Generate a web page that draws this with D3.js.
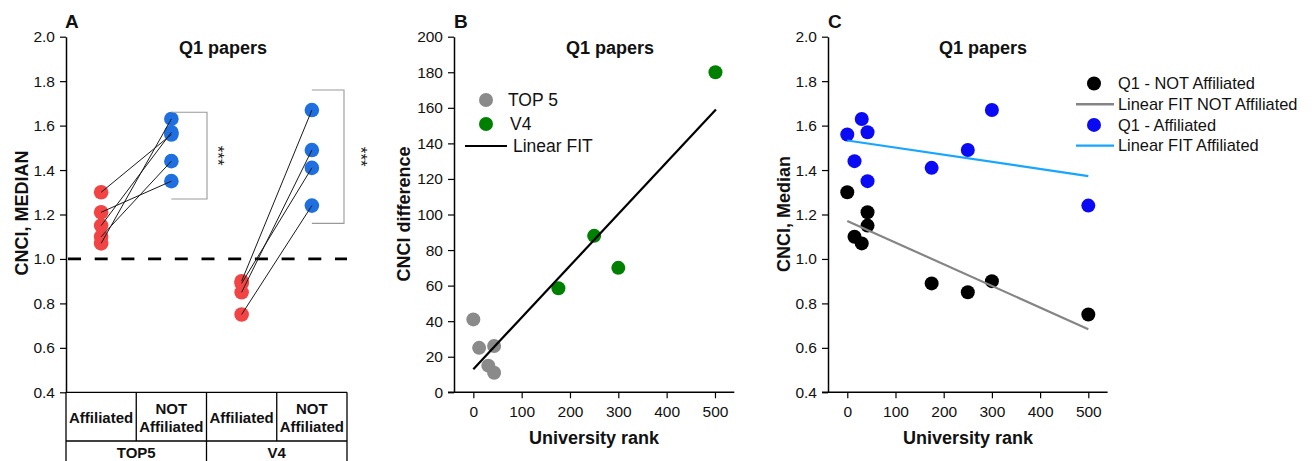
<!DOCTYPE html>
<html>
<head>
<meta charset="utf-8">
<script src="https://cdn.jsdelivr.net/npm/d3@7"></script>
<style>
  html, body { margin: 0; padding: 0; background: #fff; }
  svg { display: block; font-family: "Liberation Sans", Arial, sans-serif; }
</style>
</head>
<body>
<svg id="chart" width="1314" height="461"></svg>
<script>
// ---------------- DATA ----------------
// Panel A
const groupsA = ["TOP5", "V4"];
const conditionsA = ["Affiliated", "NOT Affiliated"];
const top5Affiliated    = [1.30, 1.10, 1.07, 1.21, 1.15];
const top5NotAffiliated = [1.56, 1.44, 1.63, 1.35, 1.57];
const v4Affiliated      = [0.89, 0.85, 0.90, 0.75];
const v4NotAffiliated   = [1.41, 1.49, 1.67, 1.24];
const refLineA = 1.0;
const significanceA = ["***", "***"];
const yTicksA = [0.4, 0.6, 0.8, 1.0, 1.2, 1.4, 1.6, 1.8, 2.0];

// Panel B
const top5Rank = [0, 12, 31, 43, 43];
const top5Diff = [41, 25, 15, 26, 11];
const v4Rank   = [176, 250, 300, 501];
const v4Diff   = [58.5, 88, 70, 180];
const fitBRank = [0, 502];
const fitBDiff = [13, 159];
const yTicksB  = [0, 20, 40, 60, 80, 100, 120, 140, 160, 180, 200];
const xTicksRank = [0, 100, 200, 300, 400, 500];

// Panel C
const rankC = [0, 15, 30, 42, 42, 175, 250, 300, 500];
const notAffiliatedC = [1.30, 1.10, 1.07, 1.21, 1.15, 0.89, 0.85, 0.90, 0.75];
const affiliatedC    = [1.56, 1.44, 1.63, 1.57, 1.35, 1.41, 1.49, 1.67, 1.24];
const fitCRank = [0, 500];
const fitNotAffC = [1.171, 0.684];
const fitAffC    = [1.533, 1.373];

// ---------------- STYLE ----------------
const RED = "#f24444", BLUE_A = "#1f6fe0";
const GRAY_B = "#8a8a8a", GREEN = "#008000";
const BLUE_C = "#0a0af5", FIT_GRAY = "#858585", FIT_BLUE = "#16a6ff";
const TXT = "#111";

const svg = d3.select("#chart");

const yTop = 36.7, yBot = 392.3;

function yAxis(g, scale, x, ticks, fmt) {
  const a = d3.axisLeft(scale).tickValues(ticks).tickFormat(fmt).tickSize(6).tickPadding(5).tickSizeOuter(0);
  const gg = g.append("g").attr("transform", `translate(${x},0)`).call(a);
  gg.select(".domain").attr("stroke", "#000").attr("stroke-width", 1.5);
  gg.selectAll(".tick line").attr("stroke", "#000").attr("stroke-width", 1.2);
  gg.selectAll(".tick text").attr("font-size", 15.5).attr("fill", TXT).attr("font-family", "Liberation Sans, Arial, sans-serif");
  return gg;
}
function xAxis(g, scale, y, ticks, leftExt) {
  const a = d3.axisBottom(scale).tickValues(ticks).tickSize(6).tickPadding(8).tickSizeOuter(0);
  const gg = g.append("g").attr("transform", `translate(0,${y})`).call(a);
  gg.select(".domain").remove();
  const r = scale.range();
  gg.append("line").attr("x1", r[0] - leftExt).attr("x2", r[1]).attr("y1", 0).attr("y2", 0)
    .attr("stroke", "#000").attr("stroke-width", 1.5);
  gg.selectAll(".tick line").attr("stroke", "#000").attr("stroke-width", 1.2);
  gg.selectAll(".tick text").attr("font-size", 15.5).attr("fill", TXT).attr("font-family", "Liberation Sans, Arial, sans-serif");
  return gg;
}
function title(g, x, txt) {
  g.append("text").attr("x", x).attr("y", 54).attr("text-anchor", "middle")
    .attr("font-size", 18).attr("font-weight", "bold").attr("fill", TXT).text(txt);
}
function panelLabel(g, x, txt) {
  g.append("text").attr("x", x).attr("y", 28).attr("font-size", 19)
    .attr("font-weight", "bold").attr("fill", TXT).text(txt);
}
function yLabel(g, x, y, txt) {
  g.append("text").attr("transform", `translate(${x},${y}) rotate(-90)`)
    .attr("text-anchor", "middle").attr("dy", "0.35em")
    .attr("font-size", 18).attr("font-weight", "bold").attr("fill", TXT).text(txt);
}

// ---------------- PANEL A ----------------
(function () {
  const g = svg.append("g");
  const keys = [];
  groupsA.forEach(gr => conditionsA.forEach(c => keys.push(gr + "|" + c)));
  const x = d3.scaleBand().domain(keys).range([66, 347]).padding(0);
  const y = d3.scaleLinear().domain([0.4, 2.0]).range([yBot, yTop]);
  const cx = k => x(k) + x.bandwidth() / 2;

  yAxis(g, y, 66, yTicksA, d3.format(".1f"));

  // dashed reference line
  g.append("line").attr("x1", 66).attr("x2", 347).attr("y1", y(refLineA)).attr("y2", y(refLineA))
    .attr("stroke", "#000").attr("stroke-width", 2.8).attr("stroke-dasharray", "13,13.7")
    .attr("stroke-dashoffset", -2);

  const sets = [
    { g: "TOP5", a: top5Affiliated, n: top5NotAffiliated },
    { g: "V4", a: v4Affiliated, n: v4NotAffiliated }
  ];
  const starOffset = [11, 17];

  sets.forEach((s, si) => {
    const ka = s.g + "|" + conditionsA[0], kn = s.g + "|" + conditionsA[1];
    // dots
    g.selectAll(null).data(s.a).enter().append("circle")
      .attr("cx", cx(ka)).attr("cy", d => y(d)).attr("r", 7.3).attr("fill", RED);
    g.selectAll(null).data(s.n).enter().append("circle")
      .attr("cx", cx(kn)).attr("cy", d => y(d)).attr("r", 7.3).attr("fill", BLUE_A);
    // pair lines
    g.selectAll(null).data(s.a.map((v, i) => [v, s.n[i]])).enter().append("line")
      .attr("x1", cx(ka)).attr("x2", cx(kn))
      .attr("y1", d => y(d[0])).attr("y2", d => y(d[1]))
      .attr("stroke", "#1a1a1a").attr("stroke-width", 1);
    // bracket
    const maxN = d3.max(s.n), minN = d3.min(s.n);
    const bx = x(kn) + x.bandwidth() + (si === 0 ? 0.5 : -3);
    const yt = y(maxN + 0.03 + (si === 0 ? 0 : 0.06));
    const yb = y(minN - 0.08);
    g.append("path")
      .attr("d", `M${cx(kn)},${yt}H${bx}V${yb}H${cx(kn)}`)
      .attr("fill", "none").attr("stroke", "#999").attr("stroke-width", 1.1);
    g.append("text").attr("transform", `translate(${bx + starOffset[si]},${(yt + yb) / 2}) rotate(90)`)
      .attr("text-anchor", "middle").attr("dy", "0.35em")
      .attr("font-size", 17).attr("fill", "#222").text(significanceA[si]);
  });

  // category table
  const tTop = yBot, tMid = 441, tBot = 490;
  const tl = g.append("g").attr("stroke", "#000").attr("stroke-width", 1.3);
  tl.append("line").attr("x1", 66).attr("x2", 347).attr("y1", tTop).attr("y2", tTop);
  tl.append("line").attr("x1", 66).attr("x2", 347).attr("y1", tMid).attr("y2", tMid);
  keys.forEach(k => {
    tl.append("line").attr("x1", x(k)).attr("x2", x(k)).attr("y1", tTop).attr("y2", tMid);
  });
  tl.append("line").attr("x1", 347).attr("x2", 347).attr("y1", tTop).attr("y2", tBot);
  groupsA.forEach(gr => {
    const k0 = gr + "|" + conditionsA[0];
    tl.append("line").attr("x1", x(k0)).attr("x2", x(k0)).attr("y1", tMid).attr("y2", tBot);
    const gc = x(k0) + x.bandwidth();
    g.append("text").attr("x", gc).attr("y", 457.5).attr("text-anchor", "middle")
      .attr("font-size", 15).attr("font-weight", "bold").attr("fill", TXT).text(gr);
  });
  keys.forEach(k => {
    const label = k.split("|")[1];
    const words = label.split(" ");
    if (words.length === 1) {
      g.append("text").attr("x", cx(k)).attr("y", 422.5).attr("text-anchor", "middle")
        .attr("font-size", 15).attr("font-weight", "bold").attr("fill", TXT).text(label);
    } else {
      g.append("text").attr("x", cx(k)).attr("y", 413.5).attr("text-anchor", "middle")
        .attr("font-size", 15).attr("font-weight", "bold").attr("fill", TXT).text(words[0]);
      g.append("text").attr("x", cx(k)).attr("y", 432).attr("text-anchor", "middle")
        .attr("font-size", 15).attr("font-weight", "bold").attr("fill", TXT).text(words.slice(1).join(" "));
    }
  });

  title(g, 223, "Q1 papers");
  panelLabel(g, 65, "A");
  yLabel(g, 21.5, 213, "CNCI, MEDIAN");
})();

// ---------------- PANEL B ----------------
(function () {
  const g = svg.append("g");
  const x = d3.scaleLinear().domain([-40, 540]).range([454, 734.3]);
  const y = d3.scaleLinear().domain([0, 200]).range([yBot, yTop]);

  yAxis(g, y, 454, yTicksB, d3.format("d"));
  xAxis(g, x, yBot, xTicksRank, 6);

  g.selectAll(null).data(top5Rank.map((r, i) => [r, top5Diff[i]])).enter().append("circle")
    .attr("cx", d => x(d[0])).attr("cy", d => y(d[1])).attr("r", 7).attr("fill", GRAY_B);
  g.selectAll(null).data(v4Rank.map((r, i) => [r, v4Diff[i]])).enter().append("circle")
    .attr("cx", d => x(d[0])).attr("cy", d => y(d[1])).attr("r", 7).attr("fill", GREEN);

  const line = d3.line().x(d => x(d[0])).y(d => y(d[1]));
  g.append("path").datum(fitBRank.map((r, i) => [r, fitBDiff[i]])).attr("d", line)
    .attr("fill", "none").attr("stroke", "#000").attr("stroke-width", 2.2);

  // legend
  const lg = g.append("g");
  lg.append("circle").attr("cx", 486).attr("cy", 100).attr("r", 7).attr("fill", GRAY_B);
  lg.append("text").attr("x", 508).attr("y", 100).attr("dy", "0.35em").attr("font-size", 17.5).attr("fill", TXT).text("TOP 5");
  lg.append("circle").attr("cx", 486).attr("cy", 124).attr("r", 7).attr("fill", GREEN);
  lg.append("text").attr("x", 510).attr("y", 124).attr("dy", "0.35em").attr("font-size", 17.5).attr("fill", TXT).text("V4");
  lg.append("line").attr("x1", 465).attr("x2", 507).attr("y1", 146).attr("y2", 146).attr("stroke", "#000").attr("stroke-width", 2.2);
  lg.append("text").attr("x", 513).attr("y", 146).attr("dy", "0.35em").attr("font-size", 17.5).attr("fill", TXT).text("Linear FIT");

  title(g, 610, "Q1 papers");
  panelLabel(g, 454, "B");
  yLabel(g, 404, 214, "CNCI difference");
  g.append("text").attr("x", 594).attr("y", 444).attr("text-anchor", "middle")
    .attr("font-size", 18).attr("font-weight", "bold").attr("fill", TXT).text("University rank");
})();

// ---------------- PANEL C ----------------
(function () {
  const g = svg.append("g");
  const x = d3.scaleLinear().domain([-40, 540]).range([828, 1107.6]);
  const y = d3.scaleLinear().domain([0.4, 2.0]).range([yBot, yTop]);

  yAxis(g, y, 828, yTicksA, d3.format(".1f"));
  xAxis(g, x, yBot, xTicksRank, 6);

  g.selectAll(null).data(rankC.map((r, i) => [r, affiliatedC[i]])).enter().append("circle")
    .attr("cx", d => x(d[0])).attr("cy", d => y(d[1])).attr("r", 7).attr("fill", BLUE_C);
  g.selectAll(null).data(rankC.map((r, i) => [r, notAffiliatedC[i]])).enter().append("circle")
    .attr("cx", d => x(d[0])).attr("cy", d => y(d[1])).attr("r", 7).attr("fill", "#000");

  const line = d3.line().x(d => x(d[0])).y(d => y(d[1]));
  g.append("path").datum(fitCRank.map((r, i) => [r, fitNotAffC[i]])).attr("d", line)
    .attr("fill", "none").attr("stroke", FIT_GRAY).attr("stroke-width", 2.2);
  g.append("path").datum(fitCRank.map((r, i) => [r, fitAffC[i]])).attr("d", line)
    .attr("fill", "none").attr("stroke", FIT_BLUE).attr("stroke-width", 2.2);

  // legend
  const lg = g.append("g");
  const items = [
    { t: "dot", c: "#000", label: "Q1 - NOT Affiliated" },
    { t: "line", c: FIT_GRAY, label: "Linear FIT NOT Affiliated" },
    { t: "dot", c: BLUE_C, label: "Q1 - Affiliated" },
    { t: "line", c: FIT_BLUE, label: "Linear FIT Affiliated" }
  ];
  items.forEach((it, i) => {
    const yy = 83.5 + i * 20.7;
    if (it.t === "dot") {
      lg.append("circle").attr("cx", 1094).attr("cy", yy).attr("r", 7).attr("fill", it.c);
    } else {
      lg.append("line").attr("x1", 1076).attr("x2", 1114).attr("y1", yy).attr("y2", yy)
        .attr("stroke", it.c).attr("stroke-width", 2.4);
    }
    lg.append("text").attr("x", 1118).attr("y", yy).attr("dy", "0.35em")
      .attr("font-size", 16.4).attr("fill", TXT).text(it.label);
  });

  title(g, 983, "Q1 papers");
  panelLabel(g, 828, "C");
  yLabel(g, 784, 214, "CNCI, Median");
  g.append("text").attr("x", 968).attr("y", 444).attr("text-anchor", "middle")
    .attr("font-size", 18).attr("font-weight", "bold").attr("fill", TXT).text("University rank");
})();
</script>
</body>
</html>
